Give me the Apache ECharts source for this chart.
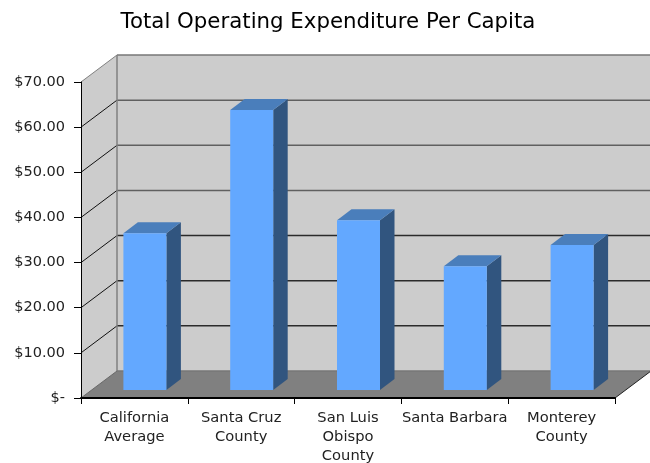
<!DOCTYPE html>
<html><head><meta charset="utf-8">
<style>html,body{margin:0;padding:0;background:#fff}#c{width:650px;height:463px}</style>
<script src="https://cdn.jsdelivr.net/npm/echarts@6/dist/echarts.min.js"></script>
</head><body><div id="c"></div>
<script>
const chartTitle = 'Total Operating Expenditure Per Capita';
const categories = ['California\nAverage', 'Santa Cruz\nCounty', 'San Luis\nObispo\nCounty', 'Santa Barbara', 'Monterey\nCounty'];
const expenditure = [34.7, 62, 37.6, 27.4, 32.1];
const gridValues = [10, 20, 30, 40, 50, 60, 70];
const tickLabels = ['$-', '$10.00', '$20.00', '$30.00', '$40.00', '$50.00', '$60.00', '$70.00'];

const FONT = 'DejaVu Sans';
const WALL_DX = 36, WALL_DY = -27;
const BAR_DX = 10.5, BAR_DY = -8, SIDE_DX = 14.5, SIDE_DY = -11;
const BAR_W = 43;

const chart = echarts.init(document.getElementById('c'), null, {renderer: 'canvas'});

function renderWalls(params, api) {
  const xs = params.coordSys;
  const L = xs.x, R = xs.x + xs.width;
  const top = api.coord([0, 70])[1], bot = api.coord([0, 0])[1];
  const dx = WALL_DX, dy = WALL_DY;
  const kids = [];
  const poly = (pts, fill) => kids.push({type: 'polygon', shape: {points: pts}, style: {fill}});
  const line = (a, b, stroke, w) => kids.push({type: 'line', shape: {x1: a[0], y1: a[1], x2: b[0], y2: b[1]}, style: {stroke, lineWidth: w}});
  poly([[L + dx, top + dy], [R + dx, top + dy], [R + dx, bot + dy], [L + dx, bot + dy]], '#cccccc');
  poly([[L, top], [L + dx, top + dy], [L + dx, bot + dy], [L, bot]], '#cccccc');
  poly([[L, bot], [L + dx, bot + dy], [R + dx, bot + dy], [R, bot]], '#808080');
  gridValues.forEach(v => {
    const y = api.coord([0, v])[1];
    const isTop = v === 70;
    line([L, y], [L + dx, y + dy], isTop ? '#808080' : '#111', 1);
    line([L + dx, y + dy], [R + dx, y + dy], isTop ? '#777' : (v >= 40 ? '#606060' : '#2a2a2a'), 1.5);
  });
  line([L + dx, top + dy], [L + dx, bot + dy], '#808080', 1.5);
  line([L + dx, bot + dy], [R + dx, bot + dy], '#777', 1.5);
  line([L, bot], [L + dx, bot + dy], '#666', 1);
  line([R, bot], [R + dx, bot + dy], '#222', 1);
  return {type: 'group', children: kids};
}

function renderBar(params, api) {
  const c = api.coord([api.value(0), api.value(1)]);
  const b = api.coord([api.value(0), 0]);
  const x0 = c[0] + BAR_DX - BAR_W / 2, x1 = x0 + BAR_W;
  const t = c[1] + BAR_DY, f = b[1] + BAR_DY;
  return {type: 'group', children: [
    {type: 'polygon', shape: {points: [[x1, t], [x1 + SIDE_DX, t + SIDE_DY], [x1 + SIDE_DX, f + SIDE_DY], [x1, f]]}, style: {fill: '#31557f'}},
    {type: 'polygon', shape: {points: [[x0, t], [x0 + SIDE_DX, t + SIDE_DY], [x1 + SIDE_DX, t + SIDE_DY], [x1, t]]}, style: {fill: '#4a7ebb'}},
    {type: 'rect', shape: {x: x0, y: t, width: BAR_W, height: f - t}, style: {fill: '#63a8ff'}}
  ]};
}

chart.setOption({
  animation: false,
  backgroundColor: '#ffffff',
  title: {text: chartTitle, left: 323, top: 7, textAlign: 'center',
    textStyle: {fontFamily: FONT, fontSize: 21.3, fontWeight: 'normal', color: '#000'}},
  grid: {left: 81, right: 35, top: 82, bottom: 65, outerBoundsMode: 'none'},
  xAxis: {type: 'category', data: categories, z: 5,
    axisLine: {lineStyle: {color: '#000', width: 2}},
    axisTick: {show: true, alignWithLabel: false, length: 6, lineStyle: {color: '#000'}},
    axisLabel: {interval: 0, fontFamily: FONT, fontSize: 14.7, color: '#222', lineHeight: 19, margin: 11}},
  yAxis: {type: 'value', min: 0, max: 70, interval: 10, z: 5,
    axisLine: {show: true, lineStyle: {color: '#000', width: 1}},
    axisTick: {show: true, length: 7, lineStyle: {color: '#000'}},
    splitLine: {show: false},
    axisLabel: {fontFamily: FONT, fontSize: 14.5, color: '#222', margin: 16, padding: [2, 0, 0, 0],
      formatter: (v) => tickLabels[Math.round(v / 10)]}},
  series: [
    {type: 'custom', z: 1, clip: false, silent: true, renderItem: renderWalls, data: [[0, 0]], encode: {x: 0, y: 1}},
    {type: 'custom', z: 8, clip: false, renderItem: renderBar,
     data: expenditure.map((v, i) => [i, v]), encode: {x: 0, y: 1}}
  ]
});
</script></body></html>
